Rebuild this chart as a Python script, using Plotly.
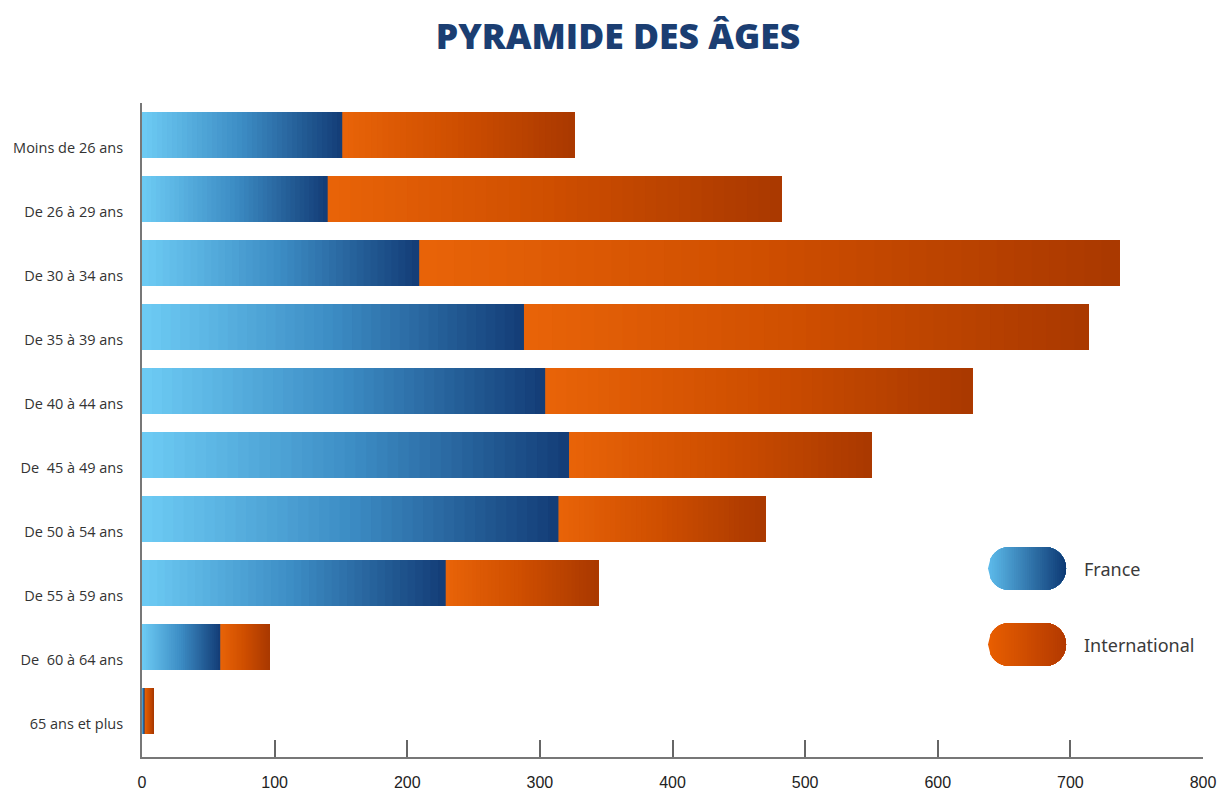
import plotly.graph_objects as go

# ---------------- data ----------------
categories = ["Moins de 26 ans", "De 26 à 29 ans", "De 30 à 34 ans", "De 35 à 39 ans",
              "De 40 à 44 ans", "De  45 à 49 ans", "De 50 à 54 ans", "De 55 à 59 ans",
              "De  60 à 64 ans", "65 ans et plus"]
france = [151, 140, 209, 288, 304, 322, 314, 229, 59, 2]
international = [175, 342, 528, 426, 322, 228, 156, 115, 37, 7]
x_ticks = [0, 100, 200, 300, 400, 500, 600, 700, 800]
series_names = ["France", "International"]

# ---------------- styling ----------------
W, H = 1220, 791
ML, MR, MT, MB = 142, 17, 103, 34
PW, PH = W - ML - MR, H - MT - MB

france_stops = [(0.0, (108, 202, 243)), (0.5, (60, 140, 196)), (1.0, (20, 62, 120))]
inter_stops = [(0.0, (232, 99, 8)), (0.5, (206, 78, 0)), (1.0, (170, 57, 0))]
legend_france = [(0.0, (92, 186, 234)), (1.0, (14, 59, 118))]
legend_inter = [(0.0, (232, 94, 0)), (1.0, (180, 58, 0))]


def interp(stops, t):
    for (t0, c0), (t1, c1) in zip(stops[:-1], stops[1:]):
        if t <= t1:
            f = 0 if t1 == t0 else (t - t0) / (t1 - t0)
            c = [round(a + (b - a) * f) for a, b in zip(c0, c1)]
            return "rgb(%d,%d,%d)" % tuple(c)
    c = stops[-1][1]
    return "rgb(%d,%d,%d)" % tuple(c)


fig = go.Figure()
N = 40
# gradient bars: overlapping slices, each running from its base to the end of the segment
for vals, starts, stops in [(france, [0] * len(france), france_stops),
                            (international, france, inter_stops)]:
    for k in range(N):
        t = k / (N - 1)
        bases = [s + v * k / N for s, v in zip(starts, vals)]
        lens = [v * (1 - k / N) for v in vals]
        fig.add_trace(go.Bar(
            y=categories, x=lens, base=bases, orientation="h",
            marker=dict(color=interp(stops, t), line=dict(width=0)),
            showlegend=False, hoverinfo="skip"))


# legend pills (decoration), built as gradient slices
def px2paper(px, py):
    return (px - ML) / PW, (H - MB - py) / PH


def pill(x0, x1, y0, y1, stops, n=36):
    r = (y1 - y0) / 2
    cy = (y0 + y1) / 2
    cx1, cx2 = x0 + r, x1 - r

    def half(x):
        if x < cx1:
            d = cx1 - x
            return max(r * r - d * d, 0) ** 0.5
        if x > cx2:
            d = x - cx2
            return max(r * r - d * d, 0) ** 0.5
        return r

    step = (x1 - x0) / n
    for i in range(n):
        a = x0 + i * step
        b = x1
        xs = [a + (b - a) * j / 30 for j in range(31)]
        top = [(x, cy - half(x)) for x in xs]
        bot = [(x, cy + half(x)) for x in reversed(xs)]
        pts = [px2paper(*p) for p in top + bot]
        path = "M " + " L ".join("%.5f,%.5f" % p for p in pts) + " Z"
        fig.add_shape(type="path", path=path, xref="paper", yref="paper",
                      fillcolor=interp(stops, i / (n - 1)), line=dict(width=0),
                      layer="above")


pill(988, 1066, 547, 590, legend_france)
pill(988, 1066, 623, 666, legend_inter)

for name, py in zip(series_names, [569, 645]):
    xp, yp = px2paper(1082, py)
    fig.add_annotation(x=xp, y=yp, xref="paper", yref="paper", text=name,
                       showarrow=False, xanchor="left", yanchor="middle",
                       font=dict(family="Noto Sans", size=18, color="#3a3a3a"))

fig.update_layout(
    width=W, height=H,
    margin=dict(l=ML, r=MR, t=MT, b=MB, autoexpand=False),
    barmode="overlay", bargap=0.28125,
    plot_bgcolor="white", paper_bgcolor="white",
    showlegend=False,
    title=dict(text="PYRAMIDE DES ÂGES", xref="container", yref="container",
               x=618 / W, y=1 - 37 / H, xanchor="center", yanchor="middle",
               font=dict(family="Open Sans", size=35.5, weight=800, color="#1b3e72")),
    xaxis=dict(range=[0, 800], tickvals=x_ticks, ticks="inside", ticklen=17,
               tickcolor="#666", tickwidth=1.5, showline=True, linecolor="#777",
               linewidth=1.5, showgrid=False, zeroline=False, automargin=False,
               tickfont=dict(family="Liberation Sans", size=16, color="#222"),
               ticklabelstandoff=10),
    yaxis=dict(type="category", categoryorder="array", categoryarray=categories,
               range=[9.71875, -0.5], showline=True, linecolor="#777", linewidth=2,
               ticks="", showgrid=False, zeroline=False, automargin=False,
               tickfont=dict(family="Open Sans", size=14.5, color="#333"),
               ticklabelstandoff=14, ticklabelshift=-13),
)

fig.write_html("out.html", config={"displayModeBar": False},
               post_script="document.body.style.margin='0';"
                           "document.body.style.overflow='hidden';")
